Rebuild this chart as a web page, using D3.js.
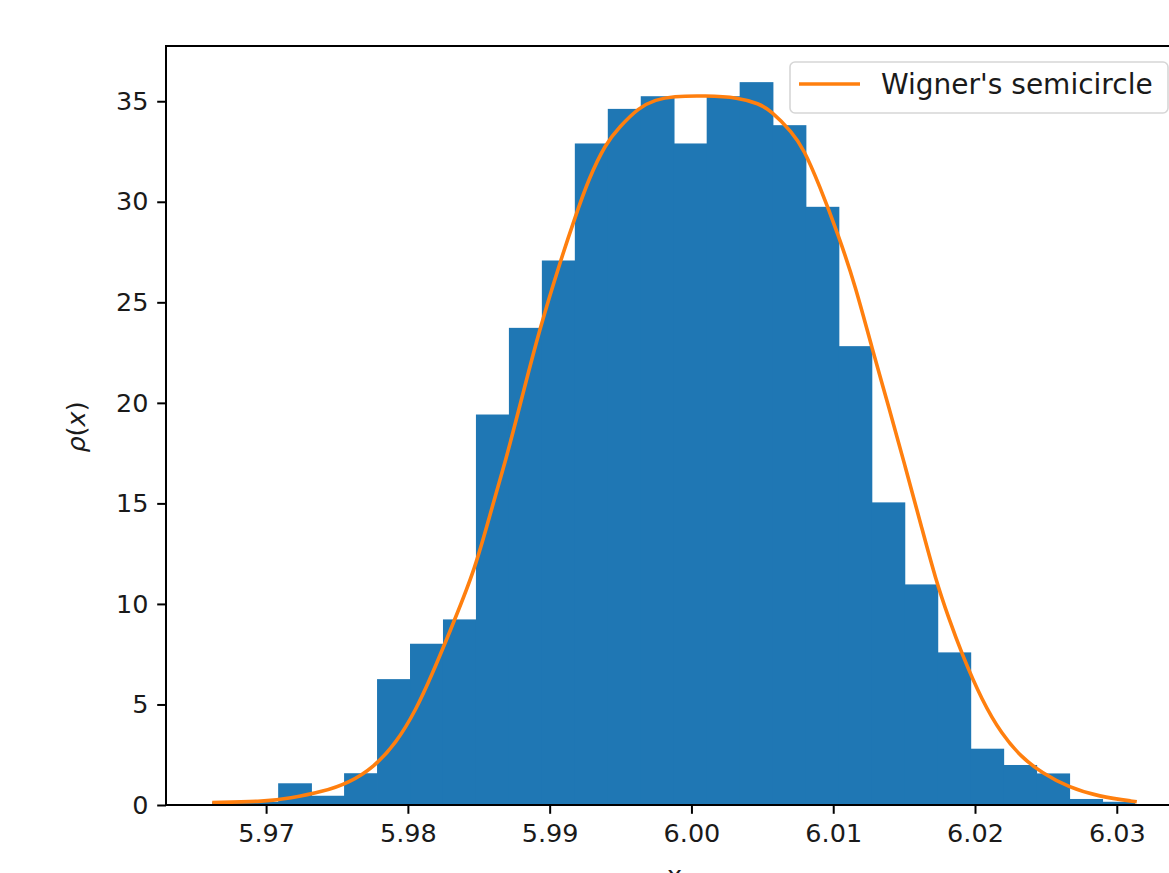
<!DOCTYPE html>
<html>
<head>
<meta charset="utf-8">
<script src="https://cdn.jsdelivr.net/npm/d3@7"></script>
<style>
  body { margin: 0; background: #fff; }
  text { font-family: "DejaVu Sans", sans-serif; }
</style>
</head>
<body>
<svg id="chart" width="1169" height="873"></svg>
<script>
// histogram: density of each bin (28 equal bins between histStart and histEnd)
var histStart = 5.9662
var histEnd = 6.0313
var density = [0.16, 0.16, 1.08, 0.46, 1.58, 6.26, 8.02, 9.23, 19.42, 23.73,
               27.08, 32.90, 34.62, 35.25, 32.90, 35.25, 35.95, 33.81, 29.75, 22.82,
               15.05, 10.97, 7.59, 2.80, 1.99, 1.57, 0.30, 0.16]

// orange curve
var curveX = [5.96620, 5.97000, 5.97164, 5.97399, 5.97587, 5.97763, 5.97916, 5.98057,
              5.98174, 5.98291, 5.98468, 5.98573, 5.98691, 5.98806, 5.98926, 5.99078,
              5.99172, 5.99278, 5.99396, 5.99489, 5.99630, 5.99748, 5.99865, 6.00100,
              6.00330, 6.00476, 6.00558, 6.00710, 6.00793, 6.00898, 6.01039, 6.01157,
              6.01274, 6.01392, 6.01509, 6.01624, 6.01723, 6.01814, 6.01908, 6.02049,
              6.02190, 6.02331, 6.02472, 6.02660, 6.02871, 6.03141]
var curveY = [0.12, 0.18, 0.33, 0.66, 1.11, 1.90, 3.07, 4.72,
              6.55, 8.54, 11.60, 14.30, 17.15, 20.30, 23.60, 27.10,
              29.08, 31.20, 32.90, 33.70, 34.70, 35.08, 35.25, 35.28,
              35.19, 34.88, 34.55, 33.47, 32.60, 30.90, 28.30, 25.80,
              22.70, 19.80, 16.80, 13.80, 11.20, 9.30, 7.50, 5.20,
              3.50, 2.35, 1.60, 0.88, 0.42, 0.16]

var xTicks = [5.97, 5.98, 5.99, 6.00, 6.01, 6.02, 6.03]
var yTicks = [0, 5, 10, 15, 20, 25, 30, 35]
var legendLabel = "Wigner's semicircle"

var svg = d3.select("#chart")
// plot box (the right edge lies past the window, like the reference)
var pL = 166, pR = 1183, pT = 46, pB = 805
var fs = 25.5
var tickLen = 8.8

var binW = (histEnd - histStart) / density.length
var bins = density.map(function(d, i) {
    return {x0: histStart + i * binW, x1: histStart + (i + 1) * binW, y: d}
})

var curve = curveX.map(function(x, i) { return [x, curveY[i]] })

// matplotlib style 5% margins
var lo = Math.min(histStart, d3.min(curveX))
var hi = Math.max(histEnd, d3.max(curveX))
var pad = (hi - lo) * 0.05
var x = d3.scaleLinear().domain([lo - pad, hi + pad]).range([pL, pR])
var yMax = Math.max(d3.max(density), d3.max(curveY)) * 1.05
var y = d3.scaleLinear().domain([0, yMax]).range([pB, pT])

// bars
svg.append("g").selectAll("rect")
    .data(bins)
    .join("rect")
    .attr("x", function(d) { return x(d.x0) })
    .attr("width", function(d, i) { return x(d.x1) - x(d.x0) + (i < bins.length - 1 ? 0.8 : 0) })
    .attr("y", function(d) { return y(d.y) })
    .attr("height", function(d) { return y(0) - y(d.y) })
    .attr("fill", "#1f77b4")

// curve
svg.append("path")
    .datum(curve)
    .attr("d", d3.line()
        .x(function(d) { return x(d[0]) })
        .y(function(d) { return y(d[1]) })
        .curve(d3.curveBasis))
    .attr("fill", "none")
    .attr("stroke", "#ff7f0e")
    .attr("stroke-width", 3.6)
    .attr("stroke-linejoin", "round")

// axes
var xAxis = d3.axisBottom(x).tickValues(xTicks).tickFormat(d3.format(".2f"))
    .tickSizeInner(tickLen).tickSizeOuter(0).tickPadding(8.8)
var yAxis = d3.axisLeft(y).tickValues(yTicks).tickFormat(d3.format("d"))
    .tickSizeInner(tickLen).tickSizeOuter(0).tickPadding(8.8)

var gx = svg.append("g").attr("transform", "translate(0," + pB + ")").call(xAxis)
var gy = svg.append("g").attr("transform", "translate(" + pL + ",0)").call(yAxis)
;[gx, gy].forEach(function(g) {
    g.select(".domain").remove()
    g.selectAll(".tick line").attr("stroke", "#000").attr("stroke-width", 2)
    g.selectAll(".tick text").attr("fill", "#1a1a1a").style("font-size", fs + "px")
        .style("font-family", "DejaVu Sans")
})
gx.selectAll(".tick text").attr("dy", "0.76em")

// spines
svg.append("rect")
    .attr("x", pL).attr("y", pT)
    .attr("width", pR - pL).attr("height", pB - pT)
    .attr("fill", "none").attr("stroke", "#000").attr("stroke-width", 2)

// axis labels (the x label is mostly below the window, as in the reference)
svg.append("text")
    .attr("x", (pL + pR) / 2).attr("y", 884)
    .attr("text-anchor", "middle")
    .style("font-size", fs + "px").attr("fill", "#1a1a1a")
    .text("x")

var yl = svg.append("text")
    .attr("transform", "translate(85,427) rotate(-90)")
    .attr("text-anchor", "middle")
    .style("font-size", fs + "px").attr("fill", "#1a1a1a")
yl.append("tspan").style("font-style", "italic").text("ρ")
yl.append("tspan").text("(")
yl.append("tspan").style("font-style", "italic").text("x")
yl.append("tspan").text(")")

// legend
var lg = svg.append("g")
lg.append("rect")
    .attr("x", 790).attr("y", 62).attr("width", 378).attr("height", 51)
    .attr("rx", 5).attr("fill", "#fff").attr("fill-opacity", 0.8)
    .attr("stroke", "#d6d6d6").attr("stroke-width", 1.6)
lg.append("line")
    .attr("x1", 799).attr("x2", 860).attr("y1", 84).attr("y2", 84)
    .attr("stroke", "#ff7f0e").attr("stroke-width", 3.6)
lg.append("text")
    .attr("x", 881).attr("y", 94)
    .style("font-size", "28px").attr("fill", "#1a1a1a")
    .text(legendLabel)
</script>
</body>
</html>
